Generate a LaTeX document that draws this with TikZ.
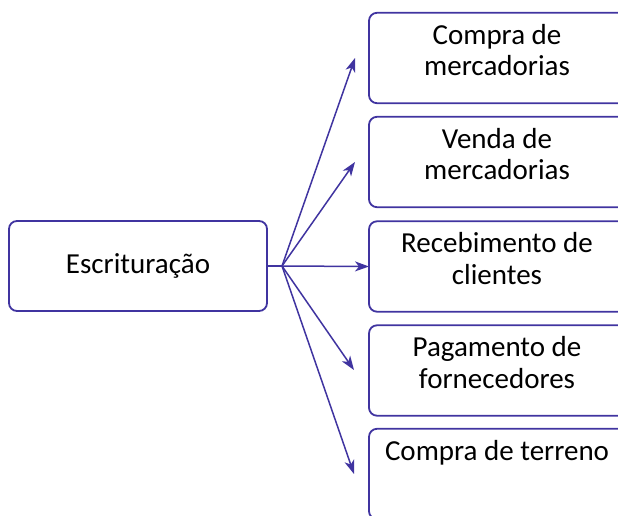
\documentclass[tikz,border=0pt]{standalone}
\usepackage{fontspec}
\setmainfont{Carlito}
\usetikzlibrary{arrows.meta,positioning}
\definecolor{roxo}{RGB}{64,52,160}

\begin{document}
\begin{tikzpicture}[x=1pt,y=-1pt,
        caixa/.style={draw=roxo,line width=1.8pt,rounded corners=8pt,minimum width=258pt,minimum height=90pt,inner sep=0pt},
        aberta/.style={minimum width=256pt,minimum height=90pt,inner sep=0pt},
        borda/.style={draw=roxo,line width=1.8pt,rounded corners=8pt},
        rotulo/.style={anchor=north,inner sep=0pt,align=center,font=\fontsize{29}{31.5}\selectfont},
        seta/.style={draw=roxo,line width=1.5pt,-{Stealth[length=14pt,width=10pt,inset=4pt]}}]
    \useasboundingbox (0,0) rectangle (618,515);
    % caixa da esquerda
    \node[caixa] (esc) at (138,266) {};
    \node[rotulo,anchor=center] (tesc) at (esc.center) {Escrituração};
    % caixas da direita (cortadas na margem)
    \foreach \i/\y/\txt in {1/58/{Compra de\\mercadorias},2/162/{Venda de\\mercadorias},3/266.5/{Recebimento de\\clientes},4/370.5/{Pagamento de\\fornecedores},5/474/{Compra de terreno}}{
        \node[aberta,anchor=west] (c\i) at (369,\y) {};
        \draw[borda] (630,0 |- c\i.north) -- (c\i.north west) -- (c\i.south west) -- (630,0 |- c\i.south);
        \node[rotulo] (t\i) at ([yshift=-11pt]c\i.north west -| 497,0) {\txt};
    }
    % setas
    \coordinate (n) at (282,266);
    \coordinate (p1) at (355,58);
    \coordinate (p2) at (355,162);
    \coordinate (p4) at (354,370);
    \coordinate (p5) at (354,474);
    \draw[roxo,line width=1.5pt] (esc.east)--(n);
    \draw[seta] (n)--(p1);
    \draw[seta] (n)--(p2);
    \draw[seta] (n)--(c3.west);
    \draw[seta] (n)--(p4);
    \draw[seta] (n)--(p5);
\end{tikzpicture}
\end{document}
